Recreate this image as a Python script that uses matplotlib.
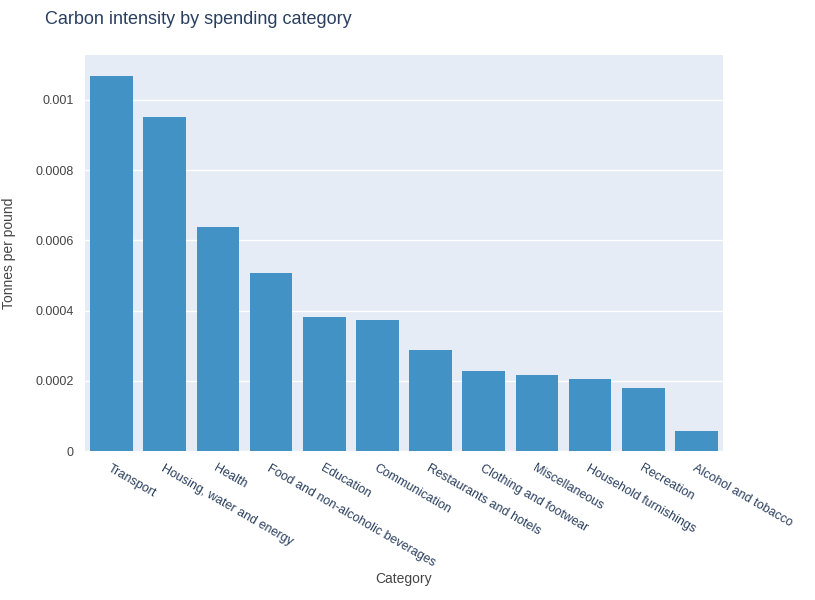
import matplotlib
matplotlib.use("Agg")
import matplotlib.pyplot as plt
import numpy as np

categories = [
    "Transport", "Housing, water and energy", "Health",
    "Food and non-alcoholic beverages", "Education", "Communication",
    "Restaurants and hotels", "Clothing and footwear", "Miscellaneous",
    "Household furnishings", "Recreation", "Alcohol and tobacco",
]
intensity = [0.001068, 0.000952, 0.000638, 0.000507, 0.000382, 0.000373,
             0.000288, 0.000228, 0.000217, 0.000205, 0.000179, 0.000057]
yticks = [0, 0.0002, 0.0004, 0.0006, 0.0008, 0.001]
ytick_labels = ["0", "0.0002", "0.0004", "0.0006", "0.0008", "0.001"]

text_col = "#2a3f5f"
plt.rcParams["font.family"] = ["Liberation Sans", "DejaVu Sans"]

fig = plt.figure(figsize=(8.15, 6.0), dpi=100)
ax = fig.add_axes([85 / 815, 149 / 600, 638 / 815, 396 / 600])
ax.set_facecolor("#e5ecf6")

x = np.arange(len(categories))
ax.bar(x, intensity, width=0.8, color="#4292c6", zorder=3)
ax.set_xlim(-0.5, len(categories) - 0.5)
ax.set_ylim(0, 0.001128)

ax.set_yticks(yticks)
ax.set_yticklabels(ytick_labels, fontsize=9, color="#444")
ax.grid(axis="y", color="white", linewidth=1, zorder=0)
ax.set_xticks(x)
ax.set_xticklabels(categories, rotation=-30, ha="left", rotation_mode="anchor",
                   fontsize=9, color=text_col)
ax.tick_params(length=0, pad=8)
for s in ax.spines.values():
    s.set_visible(False)

ax.set_ylabel("Tonnes per pound", fontsize=10, color="#444", labelpad=14)
fig.text(404 / 815, 1 - 579 / 600, "Category", fontsize=10, color="#444",
         ha="center", va="center")
fig.text(45 / 815, 1 - 20 / 600, "Carbon intensity by spending category",
         fontsize=13, color=text_col, ha="left", va="center")

fig.savefig("out.png", dpi=100)
